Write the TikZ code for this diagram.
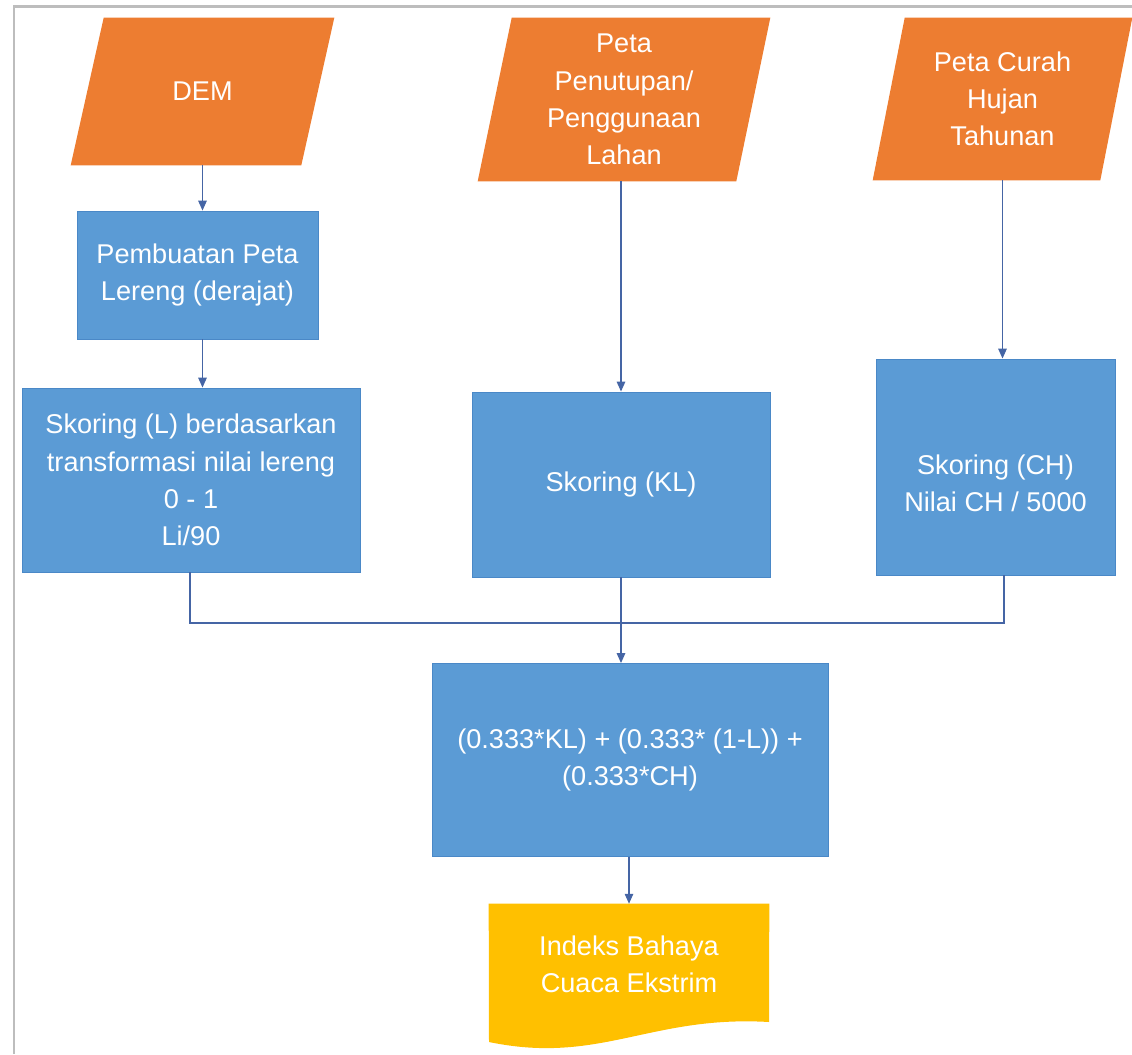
\documentclass[tikz,border=0pt]{standalone}
\usepackage{fontspec}
\setmainfont{Liberation Sans}
\usetikzlibrary{arrows.meta,backgrounds,calc}
\definecolor{orng}{HTML}{ED7D31}
\definecolor{blu}{HTML}{5B9BD5}
\definecolor{bluedge}{HTML}{4A88C7}
\definecolor{gold}{HTML}{FFC000}
\definecolor{conn}{HTML}{4565A5}
\definecolor{framegray}{HTML}{BDBDBD}
\begin{document}
\begin{tikzpicture}[x=0.025cm,y=-0.025cm,
  txt/.style={text=white, font=\fontsize{19.3}{26.5}\selectfont, align=center, inner sep=0pt},
  procbox/.style={txt, draw=bluedge, line width=0.6pt, fill=blu},
  ghost/.style={txt, draw=none},
  arr/.style={draw=conn, line width=0.9pt, -{Triangle[length=7pt,width=6pt]}},
  wire/.style={draw=conn, line width=0.9pt}]
\useasboundingbox (0,0) rectangle (1132,1054);
\draw[framegray, line width=1.5pt] (14,1054) -- (14,6.5) -- (1132,6.5);

% input parallelograms
\node[ghost, minimum width=6.575cm, minimum height=3.675cm] (dem) at (202.5,91.5) {DEM};
\node[ghost, minimum width=7.3cm, minimum height=4.075cm] (lahan) at (624,99.5) {Peta\\Penutupan/\\Penggunaan\\Lahan};
\node[ghost, minimum width=6.475cm, minimum height=4.05cm] (curah) at (1002.5,99) {Peta Curah\\Hujan\\Tahunan};
\begin{scope}[on background layer]
\fill[orng] ([xshift=0.825cm]dem.north west) -- (dem.north east) -- ([xshift=-0.825cm]dem.south east) -- (dem.south west) -- cycle;
\fill[orng] ([xshift=0.85cm]lahan.north west) -- (lahan.north east) -- ([xshift=-0.85cm]lahan.south east) -- (lahan.south west) -- cycle;
\fill[orng] ([xshift=0.8cm]curah.north west) -- (curah.north east) -- ([xshift=-0.8cm]curah.south east) -- (curah.south west) -- cycle;
\end{scope}

% process boxes
\node[procbox, minimum width=6.025cm, minimum height=3.2cm] (pemb) at (197.5,275) {Pembuatan Peta\\Lereng (derajat)};
\node[procbox, minimum width=8.45cm, minimum height=4.6cm] (skl) at (191,480) {Skoring (L) berdasarkan\\transformasi nilai lereng\\0 - 1\\Li/90};
\node[procbox, minimum width=7.45cm, minimum height=4.625cm] (kl) at (621,484.5) {Skoring (KL)};
\node[procbox, minimum width=5.975cm, minimum height=5.4cm] (ch) at (995.5,467) {};
\node[txt] (chtxt) at (995.5,483) {Skoring (CH)\\Nilai CH / 5000};
\node[procbox, minimum width=9.9cm, minimum height=4.825cm] (form) at (630,760) {(0.333*KL) + (0.333* (1-L)) +\\(0.333*CH)};

% output document
\node[ghost, minimum width=7cm, minimum height=3.025cm] (doc) at (629,964.5) {Indeks Bahaya\\Cuaca Ekstrim};
\begin{scope}[on background layer]
\fill[gold] (doc.north west) -- (doc.north east) -- (769,1022) .. controls (650,1015) and (600,1065) .. (489,1042) -- cycle;
\end{scope}

% connectors
\draw[arr] (dem.south) -- (dem.south |- pemb.north);
\draw[arr] (pemb.south -| dem.south) -- (skl.north -| dem.south);
\draw[arr] (lahan.south -| kl.north) -- (kl.north);
\draw[arr] (curah.south) -- (curah.south |- ch.north);
\coordinate (jl) at (190,623);
\coordinate (jr) at (1004,623);
\draw[wire] (skl.south -| jl) -- (jl) -- (jr) -- (ch.south -| jr);
\draw[arr] (kl.south) -- (kl.south |- form.north);
\draw[arr] (form.south -| doc.north) -- (doc.north);
\end{tikzpicture}
\end{document}
